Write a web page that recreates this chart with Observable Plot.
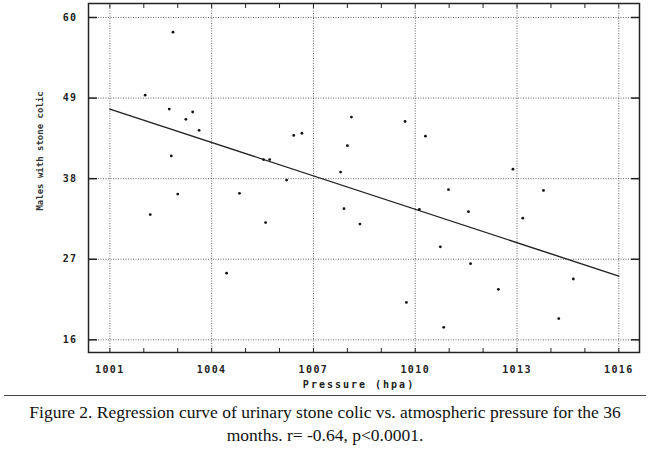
<!DOCTYPE html>
<html>
<head>
<meta charset="utf-8">
<script src="https://cdn.jsdelivr.net/npm/d3@7"></script>
<script src="https://cdn.jsdelivr.net/npm/@observablehq/plot@0.6"></script>
<style>
  html, body { margin: 0; padding: 0; background: #fff; }
  #chart svg { display: block; }
  #caption {
    width: 642px; margin-left: 4px;
    border-top: 1.5px solid #444;
    font-family: "Liberation Serif", "Times New Roman", serif;
    font-size: 17.5px; line-height: 23px; color: #111;
    text-align: center; padding-top: 5px;
  }
</style>
</head>
<body>
<div id="chart"></div>
<div id="caption">Figure 2. Regression curve of urinary stone colic vs. atmospheric pressure for the 36<br>months. r= -0.64, p&lt;0.0001.</div>
<script>
// Data (monthly atmospheric pressure vs. males with stone colic)
const pressure = [1002.04, 1002.86, 1002.75, 1003.44, 1003.24, 1003.63, 1002.81, 1003.00, 1004.82,
  1005.53, 1005.71, 1006.21, 1006.42, 1006.66, 1008.12, 1008.00, 1007.80, 1009.70, 1010.30,
  1012.88, 1010.98, 1013.78, 1002.19, 1005.59, 1007.90, 1008.37, 1004.44, 1011.57, 1013.17,
  1010.74, 1011.63, 1012.45, 1014.66, 1009.74, 1014.23, 1010.84, 1010.12];
const males = [49.4, 58.0, 47.5, 47.1, 46.1, 44.6, 41.1, 35.9, 36.0,
  40.6, 40.6, 37.8, 43.9, 44.2, 46.4, 42.5, 38.9, 45.8, 43.8,
  39.3, 36.5, 36.4, 33.1, 32.0, 33.9, 31.8, 25.1, 33.5, 32.6,
  28.7, 26.4, 22.9, 24.3, 21.1, 18.9, 17.7, 33.8];

// Regression line end points (as drawn)
const regPressure = [1001, 1016];
const regMales = [47.5, 24.7];

// Axis ticks
const xMajorTicks = [1001, 1004, 1007, 1010, 1013, 1016];
const xMinorTicks = d3.range(1001, 1017);
const yMajorTicks = [16, 27, 38, 49, 60];
const xDomain = [1000.37, 1016.61];
const yDomain = [14.27, 61.91];

const xLabel = "Pressure (hpa)";
const yLabel = "Males with stone colic";

const points = pressure.map((p, i) => ({p, m: males[i]}));
const reg = regPressure.map((p, i) => ({p, m: regMales[i]}));

const mono = "DejaVu Sans Mono, monospace";
const gridStyle = {stroke: "#444", strokeDasharray: "1,1.5", strokeOpacity: 0.8, strokeWidth: 1};

const chart = Plot.plot({
  width: 650,
  height: 395,
  marginLeft: 88,
  marginRight: 11,
  marginTop: 3,
  marginBottom: 43,
  style: {fontFamily: mono, color: "#222", background: "#fff"},
  x: {domain: xDomain},
  y: {domain: yDomain},
  marks: [
    Plot.gridX(xMajorTicks, gridStyle),
    Plot.gridY(yMajorTicks, gridStyle),
    Plot.axisX(xMajorTicks, {anchor: "bottom", tickSize: 0, tickPadding: 13, label: null,
      fontSize: 10, fontWeight: "bold", tickFormat: d => String(d), fill: "#222"}),
    Plot.axisX(xMinorTicks, {anchor: "bottom", tickSize: -4, text: null, label: null, stroke: "#222"}),
    Plot.axisX(xMinorTicks, {anchor: "top", tickSize: -4, text: null, label: null, stroke: "#222"}),
    Plot.axisY(yMajorTicks, {anchor: "left", tickSize: 0, tickPadding: 11, label: null,
      fontSize: 10, fontWeight: "bold", tickFormat: d => String(d), fill: "#222"}),
    Plot.axisY(yMajorTicks, {anchor: "left", tickSize: -9, text: null, label: null, stroke: "#222", strokeWidth: 1.5}),
    Plot.axisY(yMajorTicks, {anchor: "right", tickSize: -9, text: null, label: null, stroke: "#222", strokeWidth: 1.5}),
    Plot.frame({stroke: "#222", strokeWidth: 1.5}),
    Plot.line(reg, {x: "p", y: "m", stroke: "#222", strokeWidth: 1.4}),
    Plot.dot(points, {x: "p", y: "m", r: 1.4, fill: "#111", stroke: "none"}),
    Plot.text([xLabel], {frameAnchor: "bottom", textAnchor: "middle", dx: -5, dy: 35, fontSize: 10, fontWeight: "bold", fill: "#222"}),
    Plot.text([yLabel], {frameAnchor: "left", textAnchor: "middle", dx: -48, dy: -27, rotate: -90, fontSize: 9, fontWeight: "bold", fill: "#333"})
  ]
});
document.getElementById("chart").appendChild(chart);
// letter spacing for the wide DOS-style lettering
chart.querySelectorAll("[aria-label='x-axis tick label'] text, [aria-label='y-axis tick label'] text").forEach(t => t.setAttribute("letter-spacing", "1.4"));
chart.querySelectorAll("[aria-label='text'] text").forEach(t => {
  if (t.textContent === xLabel) t.setAttribute("letter-spacing", "2");
});
</script>
</body>
</html>
